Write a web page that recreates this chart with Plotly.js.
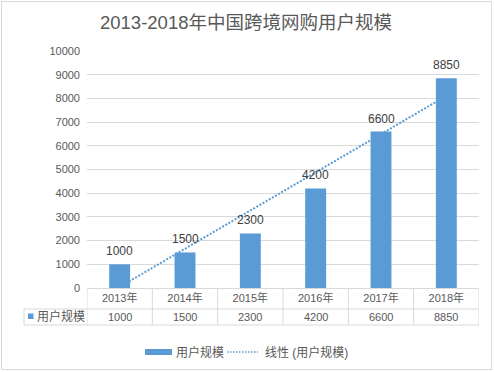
<!DOCTYPE html>
<html><head><meta charset="utf-8">
<script src="https://cdn.plot.ly/plotly-3.0.1.min.js"></script>
<style>html,body{margin:0;padding:0;background:#fff;overflow:hidden}</style>
</head><body>
<div id="chart" style="width:494px;height:372px"></div>
<script>
// ---- data ----
const chartTitle = '2013-2018年中国跨境网购用户规模';
const categories = ['2013年', '2014年', '2015年', '2016年', '2017年', '2018年'];
const userScale = [1000, 1500, 2300, 4200, 6600, 8850];
const seriesName = '用户规模';
const trendName = '线性 (用户规模)';
const yTickVals = [0, 1000, 2000, 3000, 4000, 5000, 6000, 7000, 8000, 9000, 10000];

// ---- linear trendline (least squares fit of the series, as Excel does) ----
const idx = userScale.map((_, i) => i + 1);
const n = userScale.length;
const mx = idx.reduce((a, b) => a + b, 0) / n;
const my = userScale.reduce((a, b) => a + b, 0) / n;
let sxy = 0, sxx = 0;
idx.forEach((x, i) => { sxy += (x - mx) * (userScale[i] - my); sxx += (x - mx) * (x - mx); });
const slope = sxy / sxx;
const intercept = my - slope * mx;
const trendValues = idx.map(x => intercept + slope * x);

// ---- layout geometry ----
const W = 494, H = 372, L = 87, R = 15, T = 51, B = 84;
const PW = W - L - R, PH = H - T - B;
const px = p => (p - L) / PW;          // pixel x -> paper x
const py = p => (T + PH - p) / PH;     // pixel y -> paper y

const FONT = 'Liberation Sans, Noto Sans CJK SC, sans-serif';
const BLUE = '#5B9BD5';
const GRID = '#d9d9d9';
const TXT = '#595959';

const bar = {
  type: 'bar', x: categories, y: userScale, name: seriesName,
  marker: { color: BLUE }, hoverinfo: 'none', showlegend: false
};
const trend = {
  type: 'scatter', mode: 'lines', x: categories, y: trendValues, name: trendName,
  line: { color: BLUE, width: 2, dash: '2px,1.6px' }, hoverinfo: 'none', showlegend: false
};

const shapes = [];
// outer chart border
shapes.push({ type: 'rect', xref: 'paper', yref: 'paper', x0: px(1.5), x1: px(491.5), y0: py(369.5), y1: py(1.5),
  line: { color: GRID, width: 1 }, fillcolor: 'rgba(0,0,0,0)' });
// data table vertical lines at category boundaries
for (let k = 0; k <= categories.length; k++) {
  shapes.push({ type: 'line', xref: 'x', yref: 'paper', x0: k - 0.5, x1: k - 0.5, y0: py(288), y1: py(325),
    line: { color: GRID, width: 1 } });
}
// row-2 horizontal lines and left edge
shapes.push({ type: 'line', xref: 'paper', yref: 'paper', x0: px(24), x1: 1, y0: py(309), y1: py(309), line: { color: GRID, width: 1 } });
shapes.push({ type: 'line', xref: 'paper', yref: 'paper', x0: px(24), x1: 1, y0: py(325), y1: py(325), line: { color: GRID, width: 1 } });
shapes.push({ type: 'line', xref: 'paper', yref: 'paper', x0: px(24), x1: px(24), y0: py(309), y1: py(325), line: { color: GRID, width: 1 } });
// legend key in data table
shapes.push({ type: 'rect', xref: 'paper', yref: 'paper', x0: px(28), x1: px(33.5), y0: py(319), y1: py(313.5),
  line: { width: 0 }, fillcolor: BLUE });
// bottom legend symbols
shapes.push({ type: 'rect', xref: 'paper', yref: 'paper', x0: px(145), x1: px(172), y0: py(355), y1: py(349),
  line: { width: 0 }, fillcolor: BLUE });
shapes.push({ type: 'line', xref: 'paper', yref: 'paper', x0: px(227), x1: px(258), y0: py(352), y1: py(352),
  line: { color: BLUE, width: 1.5, dash: '1.5px,1.5px' } });

const annotations = [];
// data labels above bars
categories.forEach((c, i) => {
  annotations.push({ x: c, y: userScale[i], xref: 'x', yref: 'y', text: String(userScale[i]), showarrow: false,
    yanchor: 'bottom', yshift: 4, font: { family: FONT, size: 12, color: '#404040' } });
});
// data table values
categories.forEach((c, i) => {
  annotations.push({ x: c, y: py(317), xref: 'x', yref: 'paper', text: String(userScale[i]), showarrow: false,
    yanchor: 'middle', font: { family: FONT, size: 11, color: TXT } });
});
// data table series label
annotations.push({ x: px(35), y: py(316.5), xref: 'paper', yref: 'paper', text: seriesName, showarrow: false,
  xanchor: 'left', yanchor: 'middle', font: { family: FONT, size: 12, color: TXT } });
// legend texts
annotations.push({ x: px(174), y: py(352), xref: 'paper', yref: 'paper', text: seriesName, showarrow: false,
  xanchor: 'left', yanchor: 'middle', font: { family: FONT, size: 12, color: TXT } });
annotations.push({ x: px(263), y: py(352), xref: 'paper', yref: 'paper', text: trendName, showarrow: false,
  xanchor: 'left', yanchor: 'middle', font: { family: FONT, size: 12, color: TXT } });

const layout = {
  width: W, height: H,
  margin: { l: L, r: R, t: T, b: B, pad: 0 },
  paper_bgcolor: '#ffffff', plot_bgcolor: '#ffffff',
  font: { family: FONT, color: TXT },
  title: { text: chartTitle, x: 246 / W, xref: 'container', xanchor: 'center', y: 1 - 22.5 / H, yref: 'container', yanchor: 'middle',
    font: { family: FONT, size: 18.5, color: TXT } },
  showlegend: false,
  bargap: 0.68,
  xaxis: { type: 'category', range: [-0.5, categories.length - 0.5], showgrid: false, zeroline: false,
    showline: true, linecolor: GRID, linewidth: 1, ticks: '', tickfont: { family: FONT, size: 11, color: TXT },
    fixedrange: true },
  yaxis: { range: [0, 10000], tickmode: 'array', tickvals: yTickVals, ticktext: yTickVals.map(String),
    showgrid: true, gridcolor: GRID, gridwidth: 1, zeroline: false, showline: false, ticks: '',
    ticklabelstandoff: 6, tickfont: { family: FONT, size: 11, color: TXT }, fixedrange: true },
  shapes: shapes,
  annotations: annotations
};

Plotly.newPlot('chart', [trend, bar], layout, { displayModeBar: false, staticPlot: true });
</script>
</body></html>
